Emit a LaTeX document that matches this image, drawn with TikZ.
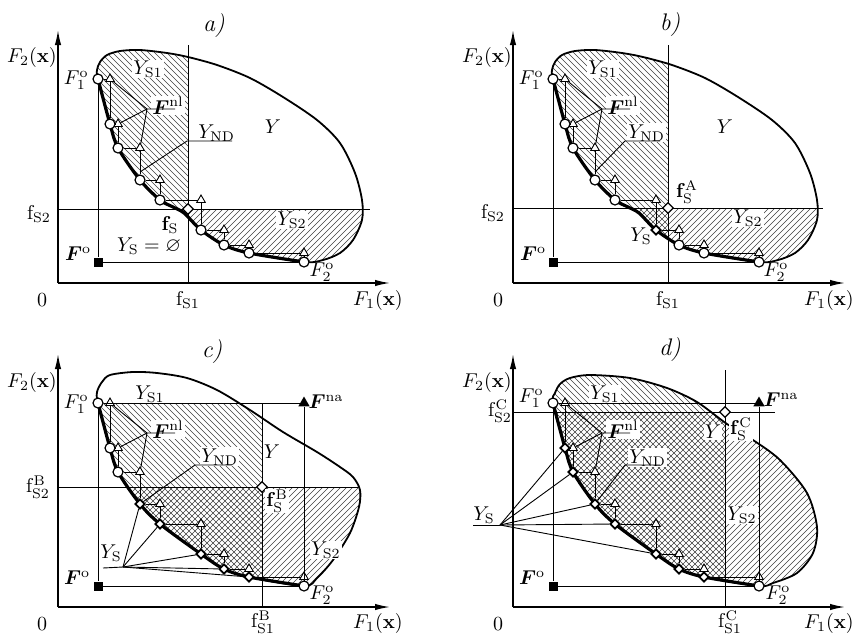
\documentclass[tikz,border=0pt]{standalone}
\usepackage{amsmath}
\usepackage{amssymb}
\usepackage{bm}
\usetikzlibrary{shapes.geometric, arrows.meta, positioning}

% Pareto points F_1^o ... F_2^o (panel coordinates, y downwards)
\newcommand{\paretolist}{1/98/79, 2/110/124, 3/118/148, 4/140/180, 5/160/200, 6/201/230, 7/224/245, 8/249/253, 9/304/262}

% attainable set Y and its front
\newcommand{\regionAB}{plot[smooth cycle] coordinates {(98,79) (97,70) (100,62) (107,55) (120,51) (140,50) (167,53) (188,57) (217,65) (250,78) (283,97) (317,120) (340,143) (355,173) (362,200) (362,220) (353,240) (340,253) (323,260) (304,262) (249,253) (224,245) (201,230) (184,213) (173,207) (160,200) (140,180) (118,148) (110,124)}}
\newcommand{\frontAB}{plot[smooth] coordinates {(98,79) (110,124) (118,148) (140,180) (160,200) (173,207) (184,213) (201,230) (224,245) (249,253) (304,262)}}
\newcommand{\regionC}{plot[smooth cycle] coordinates {(98,79) (97,68) (102,58) (110,51) (133,48) (157,49) (187,54) (217,66) (250,86) (283,108) (317,128) (340,143) (353,153) (360,166) (359,183) (350,209) (333,236) (317,254) (304,262) (249,253) (224,245) (201,230) (160,200) (140,180) (118,148) (110,124)}}
\newcommand{\regionD}{plot[smooth cycle] coordinates {(98,79) (100,69) (105,60) (115,54) (135,51) (175,54) (212,64) (242,78) (272,100) (298,116) (325,136) (352,169) (362,203) (358,229) (342,249) (318,259) (304,262) (249,253) (224,245) (201,230) (160,200) (140,180) (118,148) (110,124)}}
\newcommand{\frontCD}{plot[smooth] coordinates {(98,79) (110,124) (118,148) (140,180) (160,200) (201,230) (224,245) (249,253) (304,262)}}

% hatching
\newcommand{\hatchdown}{\foreach \k in {-300,-294,...,400} \draw[hatch] (\k,0) -- ++(300,300);}
\newcommand{\hatchup}{\foreach \k in {0,6,...,700} \draw[hatch] (\k,0) -- ++(-300,300);}

\begin{document}
\begin{tikzpicture}[
    x=0.5pt, y=-0.5pt,
    axis/.style={line width=0.7pt, -{Latex[length=7.5pt, width=3.2pt]}},
    thinline/.style={line width=0.45pt},
    outline/.style={line width=0.9pt},
    front/.style={line width=1.6pt},
    hatch/.style={line width=0.32pt, black!75},
    optpt/.style={circle, draw, fill=white, line width=0.6pt, inner sep=0pt, minimum size=5pt},
    nadpt/.style={regular polygon, regular polygon sides=3, draw, fill=white, line width=0.45pt, inner sep=0pt, minimum size=5pt},
    goalpt/.style={diamond, draw, fill=white, line width=0.6pt, inner sep=0pt, minimum size=5.5pt},
    satpt/.style={diamond, draw, fill=white, line width=0.9pt, inner sep=0pt, minimum size=5pt,
        path picture={\fill (path picture bounding box.center) circle (0.8pt);}},
    idealpt/.style={rectangle, fill=black, inner sep=0pt, minimum size=4.5pt},
    worstpt/.style={regular polygon, regular polygon sides=3, fill=black, inner sep=0pt, minimum size=6.5pt},
    lbl/.style={inner sep=0.5pt},
    wlbl/.style={lbl, fill=white},
    panellbl/.style={inner sep=0.5pt, font=\large\itshape},
  ]
  \useasboundingbox (0,0) rectangle (856,638);

  % ---------------- a) ----------------
  \begin{scope}
    \begin{scope}
      \clip (0,0) rectangle (188,300);
      \clip \regionAB;
      \hatchdown
    \end{scope}
    \begin{scope}
      \clip (0,209) rectangle (400,300);
      \clip \regionAB;
      \hatchup
    \end{scope}
    \draw[outline] \regionAB;
    \draw[front] \frontAB;

    % axes and goal lines
    \coordinate (a-o) at (58,283);
    \coordinate (a-ytip) at (58,30);
    \coordinate (a-xtip) at (390,283);
    \draw[axis] (a-o) -- (a-ytip);
    \draw[axis] (a-o) -- (a-xtip);
    \coordinate (a-s1b) at (188,283);
    \coordinate (a-s1t) at (188,45);
    \coordinate (a-s2l) at (58,209);
    \coordinate (a-s2r) at (370,209);
    \draw[thinline] (a-s1b) -- (a-s1t);
    \draw[thinline] (a-s2l) -- (a-s2r);

    % points
    \foreach \n/\px/\py in \paretolist \coordinate (a-p\n) at (\px,\py);
    \foreach \n [count=\m from 2] in {1,...,8} \node[nadpt] (a-t\n) at (a-p\m |- a-p\n) {};
    \foreach \n in {1,...,9} \node[optpt] (a-c\n) at (a-p\n) {};
    \node[idealpt] (a-sq) at (98,262) {};
    \node[goalpt] (a-fs) at (188,209) {};

    % labels
    \node[panellbl] (a-let) at (214,26) {a)};
    \node[lbl] (a-ax2) at (32,57) {$F_2(\mathbf{x})$};
    \node[lbl] (a-zero) at (42,300) {0};
    \node[lbl] (a-ax1) at (378,300) {$F_1(\mathbf{x})$};
    \node[lbl] (a-fs1) at (188,300) {$\mathrm{f}_{\mathrm{S1}}$};
    \node[lbl] (a-fs2) at (39,214) {$\mathrm{f}_{\mathrm{S2}}$};
    \node[lbl, anchor=east] (a-lf1) at (90,80) {$F_1^{\mathrm{o}}$};
    \node[lbl] (a-lf2) at (322,272) {$F_2^{\mathrm{o}}$};
    \node[lbl] (a-lfo) at (78,254) {$\bm{F}^{\mathrm{o}}$};
    \node[wlbl] (a-ys1) at (148,69) {$Y_{\mathrm{S1}}$};
    \node[lbl] (a-y) at (273,127) {$Y$};
    \node[wlbl, anchor=base west] (a-nl) at (151,114) {$\bm{F}^{\mathrm{nl}}$};
    \node[lbl, anchor=base west] (a-nd) at (197,138) {$Y_{\mathrm{ND}}$};
    \node[wlbl] (a-ys2) at (292,220) {$Y_{\mathrm{S2}}$};
    \node[wlbl] (a-lfs) at (170,225) {$\mathbf{f}_{\mathrm{S}}$};
    \node[lbl] (a-ys) at (149,246) {$Y_{\mathrm{S}}=\varnothing$};

    % connectors
    \draw[thinline] (a-sq) -- (a-c1);
    \draw[thinline] (a-sq) -- (a-c9);
    \foreach \n [count=\m from 2] in {1,...,8} \draw[thinline] (a-c\n) -- (a-t\n) -- (a-c\m);
    \coordinate (a-nlj) at (147,109);
    \coordinate (a-nle) at (175,109);
    \draw[thinline] (a-nle) -- (a-nlj) -- (a-t1);
    \draw[thinline] (a-nlj) -- (a-t2);
    \draw[thinline] (a-nlj) -- (a-t3);
    \coordinate (a-ndj) at (187,141);
    \coordinate (a-nde) at (232,141);
    \coordinate (a-ndt) at (140,172);
    \draw[thinline] (a-nde) -- (a-ndj) -- (a-ndt);
  \end{scope}

  % ---------------- b) ----------------
  \begin{scope}[shift={(455,0)}]
    \begin{scope}
      \clip (0,0) rectangle (213,300);
      \clip \regionAB;
      \hatchdown
    \end{scope}
    \begin{scope}
      \clip (0,208) rectangle (400,300);
      \clip \regionAB;
      \hatchup
    \end{scope}
    \draw[outline] \regionAB;
    \draw[front] \frontAB;

    % axes and goal lines
    \coordinate (b-o) at (58,283);
    \coordinate (b-ytip) at (58,30);
    \coordinate (b-xtip) at (390,283);
    \draw[axis] (b-o) -- (b-ytip);
    \draw[axis] (b-o) -- (b-xtip);
    \coordinate (b-s1b) at (213,283);
    \coordinate (b-s1t) at (213,45);
    \coordinate (b-s2l) at (58,208);
    \coordinate (b-s2r) at (368,208);
    \draw[thinline] (b-s1b) -- (b-s1t);
    \draw[thinline] (b-s2l) -- (b-s2r);

    % points
    \foreach \n/\px/\py in \paretolist \coordinate (b-p\n) at (\px,\py);
    \foreach \n [count=\m from 2] in {1,...,8} \node[nadpt] (b-t\n) at (b-p\m |- b-p\n) {};
    \foreach \n in {1,...,5,7,8,9} \node[optpt] (b-c\n) at (b-p\n) {};
    \node[satpt] (b-c6) at (b-p6) {};
    \node[idealpt] (b-sq) at (98,262) {};
    \node[goalpt] (b-fs) at (213,208) {};

    % labels
    \node[panellbl] (b-let) at (215,25) {b)};
    \node[lbl] (b-ax2) at (32,57) {$F_2(\mathbf{x})$};
    \node[lbl] (b-zero) at (43,300) {0};
    \node[lbl] (b-ax1) at (374,300) {$F_1(\mathbf{x})$};
    \node[lbl] (b-fs1) at (213,300) {$\mathrm{f}_{\mathrm{S1}}$};
    \node[lbl] (b-fs2) at (38,213) {$\mathrm{f}_{\mathrm{S2}}$};
    \node[lbl, anchor=east] (b-lf1) at (90,80) {$F_1^{\mathrm{o}}$};
    \node[lbl] (b-lf2) at (321,272) {$F_2^{\mathrm{o}}$};
    \node[lbl] (b-lfo) at (78,254) {$\bm{F}^{\mathrm{o}}$};
    \node[wlbl] (b-ys1) at (148,69) {$Y_{\mathrm{S1}}$};
    \node[lbl] (b-y) at (270,127) {$Y$};
    \node[wlbl, anchor=base west] (b-nl) at (151,114) {$\bm{F}^{\mathrm{nl}}$};
    \node[wlbl, anchor=base west] (b-nd) at (172,138) {$Y_{\mathrm{ND}}$};
    \node[wlbl] (b-ys2) at (293,218) {$Y_{\mathrm{S2}}$};
    \node[lbl] (b-lfs) at (232,192) {$\mathbf{f}_{\mathrm{S}}^{\mathrm{A}}$};
    \node[lbl] (b-ys) at (186,236) {$Y_{\mathrm{S}}$};

    % connectors
    \draw[thinline] (b-sq) -- (b-c1);
    \draw[thinline] (b-sq) -- (b-c9);
    \foreach \n [count=\m from 2] in {1,...,8} \draw[thinline] (b-c\n) -- (b-t\n) -- (b-c\m);
    \coordinate (b-nlj) at (147,109);
    \coordinate (b-nle) at (175,109);
    \draw[thinline] (b-nle) -- (b-nlj) -- (b-t1);
    \draw[thinline] (b-nlj) -- (b-t2);
    \draw[thinline] (b-nlj) -- (b-t3);
    \coordinate (b-ndj) at (170,141);
    \coordinate (b-nde) at (205,141);
    \coordinate (b-ndt) at (140,172);
    \draw[thinline] (b-nde) -- (b-ndj) -- (b-ndt);
  \end{scope}

  % ---------------- c) ----------------
  \begin{scope}[shift={(0,324)}]
    \begin{scope}
      \clip (0,79) rectangle (262,300);
      \clip \regionC;
      \hatchdown
    \end{scope}
    \begin{scope}
      \clip (0,163) rectangle (400,300);
      \clip \regionC;
      \hatchup
    \end{scope}
    \draw[outline] \regionC;
    \draw[front] \frontCD;

    % axes and goal lines
    \coordinate (c-o) at (58,283);
    \coordinate (c-ytip) at (58,30);
    \coordinate (c-xtip) at (390,283);
    \draw[axis] (c-o) -- (c-ytip);
    \draw[axis] (c-o) -- (c-xtip);
    \coordinate (c-s1b) at (262,283);
    \coordinate (c-s1t) at (262,79);
    \coordinate (c-s2l) at (58,163);
    \coordinate (c-s2r) at (358,163);
    \draw[thinline] (c-s1b) -- (c-s1t);
    \draw[thinline] (c-s2l) -- (c-s2r);

    % points
    \foreach \n/\px/\py in \paretolist \coordinate (c-p\n) at (\px,\py);
    \foreach \n [count=\m from 2] in {1,...,8} \node[nadpt] (c-t\n) at (c-p\m |- c-p\n) {};
    \foreach \n in {1,2,3,9} \node[optpt] (c-c\n) at (c-p\n) {};
    \foreach \n in {4,...,8} \node[satpt] (c-c\n) at (c-p\n) {};
    \node[idealpt] (c-sq) at (98,262) {};
    \node[worstpt] (c-na) at (304,79) {};
    \node[goalpt] (c-fs) at (262,163) {};

    % labels
    \node[panellbl] (c-let) at (212,28) {c)};
    \node[lbl] (c-ax2) at (32,58) {$F_2(\mathbf{x})$};
    \node[lbl] (c-zero) at (42,300) {0};
    \node[lbl] (c-ax1) at (378,299) {$F_1(\mathbf{x})$};
    \node[lbl] (c-fs1) at (263,298) {$\mathrm{f}_{\mathrm{S1}}^{\mathrm{B}}$};
    \node[lbl] (c-fs2) at (38,163) {$\mathrm{f}_{\mathrm{S2}}^{\mathrm{B}}$};
    \node[lbl, anchor=east] (c-lf1) at (90,80) {$F_1^{\mathrm{o}}$};
    \node[lbl] (c-lf2) at (322,271) {$F_2^{\mathrm{o}}$};
    \node[lbl] (c-lfo) at (77,254) {$\bm{F}^{\mathrm{o}}$};
    \node[lbl] (c-ys1) at (150,70) {$Y_{\mathrm{S1}}$};
    \node[lbl] (c-y) at (272,128) {$Y$};
    \node[wlbl, anchor=base west] (c-nl) at (151,114) {$\bm{F}^{\mathrm{nl}}$};
    \node[wlbl, anchor=base west] (c-nd) at (200,138) {$Y_{\mathrm{ND}}$};
    \node[wlbl] (c-ys2) at (326,226) {$Y_{\mathrm{S2}}$};
    \node[wlbl] (c-lfs) at (277,177) {$\mathbf{f}_{\mathrm{S}}^{\mathrm{B}}$};
    \node[lbl] (c-lna) at (326,78) {$\bm{F}^{\mathrm{na}}$};
    \node[lbl] (c-ys) at (111,229) {$Y_{\mathrm{S}}$};

    % connectors
    \draw[thinline] (c-sq) -- (c-c1);
    \draw[thinline] (c-sq) -- (c-c9);
    \draw[thinline] (c-c1) -- (c-na) -- (c-c9);
    \foreach \n [count=\m from 2] in {1,...,8} \draw[thinline] (c-c\n) -- (c-t\n) -- (c-c\m);
    \coordinate (c-nlj) at (147,109);
    \coordinate (c-nle) at (175,109);
    \draw[thinline] (c-nle) -- (c-nlj) -- (c-t1);
    \draw[thinline] (c-nlj) -- (c-t2);
    \draw[thinline] (c-nlj) -- (c-t3);
    \coordinate (c-ndj) at (195,141);
    \coordinate (c-nde) at (232,141);
    \draw[thinline] (c-nde) -- (c-ndj) -- (c-c4);
    \coordinate (c-hub) at (123,243);
    \coordinate (c-hubl) at (103,244);
    \draw[thinline] (c-hubl) -- (c-hub);
    \foreach \n in {4,...,8} \draw[thinline] (c-hub) -- (c-c\n);
  \end{scope}

  % ---------------- d) ----------------
  \begin{scope}[shift={(455,324)}]
    \begin{scope}
      \clip (0,0) rectangle (270,300);
      \clip \regionD;
      \hatchdown
    \end{scope}
    \begin{scope}
      \clip (0,88) rectangle (400,300);
      \clip \regionD;
      \hatchup
    \end{scope}
    \draw[outline] \regionD;
    \draw[front] \frontCD;

    % axes and goal lines
    \coordinate (d-o) at (58,283);
    \coordinate (d-ytip) at (58,30);
    \coordinate (d-xtip) at (390,283);
    \draw[axis] (d-o) -- (d-ytip);
    \draw[axis] (d-o) -- (d-xtip);
    \coordinate (d-s1b) at (270,283);
    \coordinate (d-s1t) at (270,46);
    \coordinate (d-s2l) at (58,88);
    \coordinate (d-s2r) at (320,88);
    \draw[thinline] (d-s1b) -- (d-s1t);
    \draw[thinline] (d-s2l) -- (d-s2r);

    % points
    \foreach \n/\px/\py in \paretolist \coordinate (d-p\n) at (\px,\py);
    \foreach \n [count=\m from 2] in {1,...,8} \node[nadpt] (d-t\n) at (d-p\m |- d-p\n) {};
    \foreach \n in {1,9} \node[optpt] (d-c\n) at (d-p\n) {};
    \foreach \n in {2,...,8} \node[satpt] (d-c\n) at (d-p\n) {};
    \node[idealpt] (d-sq) at (98,262) {};
    \node[worstpt] (d-na) at (304,79) {};
    \node[goalpt] (d-fs) at (270,88) {};

    % labels
    \node[panellbl] (d-let) at (215,26) {d)};
    \node[lbl] (d-ax2) at (32,58) {$F_2(\mathbf{x})$};
    \node[lbl] (d-zero) at (43,300) {0};
    \node[lbl] (d-ax1) at (374,299) {$F_1(\mathbf{x})$};
    \node[lbl] (d-fs1) at (275,298) {$\mathrm{f}_{\mathrm{S1}}^{\mathrm{C}}$};
    \node[lbl] (d-fs2) at (45,87) {$\mathrm{f}_{\mathrm{S2}}^{\mathrm{C}}$};
    \node[lbl, anchor=east] (d-lf1) at (90,74) {$F_1^{\mathrm{o}}$};
    \node[lbl] (d-lf2) at (323,271) {$F_2^{\mathrm{o}}$};
    \node[lbl] (d-lfo) at (77,254) {$\bm{F}^{\mathrm{o}}$};
    \node[wlbl] (d-ys1) at (150,70) {$Y_{\mathrm{S1}}$};
    \node[wlbl] (d-y) at (258,108) {$Y$};
    \node[wlbl, anchor=base west] (d-nl) at (151,114) {$\bm{F}^{\mathrm{nl}}$};
    \node[wlbl, anchor=base west] (d-nd) at (173,139) {$Y_{\mathrm{ND}}$};
    \node[wlbl] (d-ys2) at (287,191) {$Y_{\mathrm{S2}}$};
    \node[wlbl] (d-lfs) at (286,105) {$\mathbf{f}_{\mathrm{S}}^{\mathrm{C}}$};
    \node[lbl] (d-lna) at (326,76) {$\bm{F}^{\mathrm{na}}$};
    \node[lbl] (d-ys) at (29,191) {$Y_{\mathrm{S}}$};

    % connectors
    \draw[thinline] (d-sq) -- (d-c1);
    \draw[thinline] (d-sq) -- (d-c9);
    \draw[thinline] (d-c1) -- (d-na) -- (d-c9);
    \foreach \n [count=\m from 2] in {1,...,8} \draw[thinline] (d-c\n) -- (d-t\n) -- (d-c\m);
    \coordinate (d-nlj) at (147,109);
    \coordinate (d-nle) at (175,109);
    \draw[thinline] (d-nle) -- (d-nlj) -- (d-t1);
    \draw[thinline] (d-nlj) -- (d-t2);
    \draw[thinline] (d-nlj) -- (d-t3);
    \coordinate (d-ndj) at (170,141);
    \coordinate (d-nde) at (205,141);
    \draw[thinline] (d-nde) -- (d-ndj) -- (d-c4);
    \coordinate (d-hub) at (45,201);
    \coordinate (d-hubl) at (18,201);
    \draw[thinline] (d-hubl) -- (d-hub);
    \foreach \n in {2,...,6} \draw[thinline] (d-hub) -- (d-c\n);
  \end{scope}
\end{tikzpicture}
\end{document}
